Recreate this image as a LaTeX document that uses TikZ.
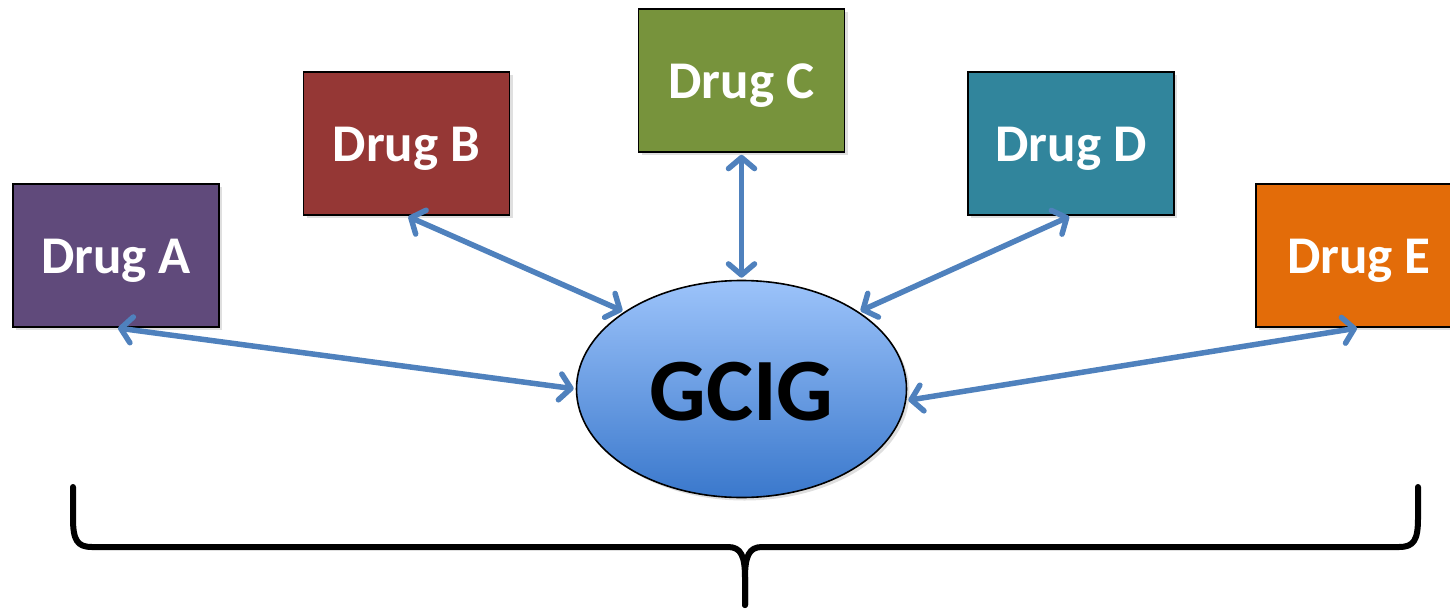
\documentclass[tikz,border=0pt]{standalone}
\usepackage{fontspec}
\setmainfont{Carlito}
\usetikzlibrary{shapes.geometric,arrows.meta,shadows}
\definecolor{colA}{HTML}{604A7B}
\definecolor{colB}{HTML}{953735}
\definecolor{colC}{HTML}{77933C}
\definecolor{colD}{HTML}{31859C}
\definecolor{colE}{HTML}{E36C09}
\definecolor{arrcol}{HTML}{4F81BD}
\definecolor{elltop}{HTML}{9CC3FA}
\definecolor{ellbot}{HTML}{3A78CC}
\tikzset{
  drugbox/.style={draw=black, line width=1.6pt, minimum width=206pt, minimum height=143pt,
    inner sep=0pt, text=white, font=\bfseries\fontsize{53}{60}\selectfont,
    text height=42pt, text depth=7pt,
    drop shadow={shadow xshift=3pt, shadow yshift=-3pt, opacity=0.25}},
  hub/.style={ellipse, draw=black, line width=1.6pt, minimum width=330pt, minimum height=217pt,
    inner sep=0pt, top color=elltop, bottom color=ellbot, shading angle=0,
    font=\bfseries\fontsize{89}{100}\selectfont, text=black,
    text height=62pt, text depth=0pt,
    drop shadow={shadow xshift=3pt, shadow yshift=-3pt, opacity=0.25}},
  link/.style={draw=arrcol, line width=5.5pt,
    {Straight Barb[length=11pt,width=26pt,line cap=round,line join=round]}-{Straight Barb[length=11pt,width=26pt,line cap=round,line join=round]},
    shorten <=2pt, shorten >=2pt},
  bracestroke/.style={draw=black, line width=6pt, line cap=round, line join=round}
}
\begin{document}
\begin{tikzpicture}[x=1pt,y=-1pt]
\useasboundingbox (0,0) rectangle (1450,610);
\node[drugbox, fill=colA] (A) at (116,255.5) {Drug A};
\node[drugbox, fill=colB] (B) at (406.5,143.5) {Drug B};
\node[drugbox, fill=colC] (C) at (741.5,80.5) {Drug C};
\node[drugbox, fill=colD] (D) at (1071,143.5) {Drug D};
\node[drugbox, fill=colE] (E) at (1359,255.5) {Drug E};
\node[hub] (G) at (741.5,389) {GCIG};
\draw[link] (A.south) -- (G.west);
\draw[link] (B.south) -- (G.north west);
\draw[link] (C.south) -- (G.north);
\draw[link] (D.south) -- (G.north east);
\draw[link] (E.south) -- (G.-4);
\coordinate (brL) at (73,487);
\coordinate (brR) at (1418,487);
\coordinate (brTip) at (745,605);
\draw[bracestroke] (brL) -- (73,518) .. controls (73,540) and (77,547) .. (92,547)
  -- (728,547) .. controls (741,547) and (745,556) .. (745,578) -- (brTip);
\draw[bracestroke] (brR) -- (1418,518) .. controls (1418,540) and (1414,547) .. (1399,547)
  -- (762,547) .. controls (749,547) and (745,556) .. (745,578) -- (brTip);
\end{tikzpicture}
\end{document}
